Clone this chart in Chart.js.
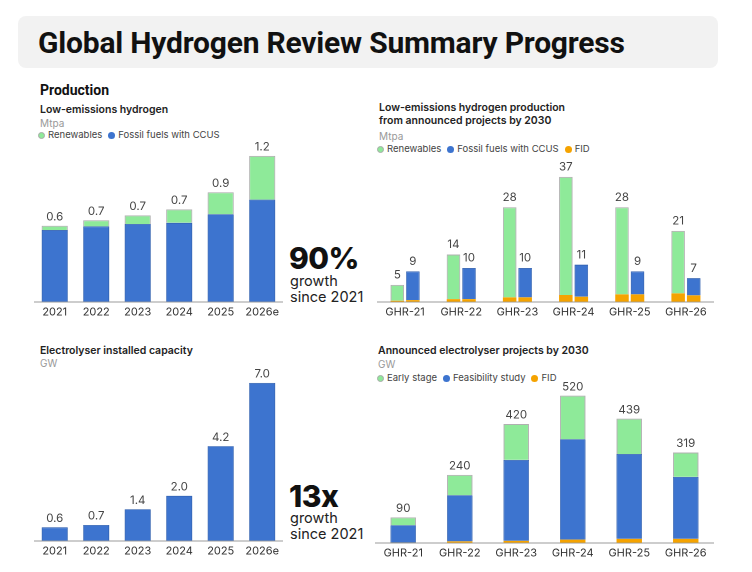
<!DOCTYPE html>
<html>
<head>
<meta charset="utf-8">
<script src="https://cdn.jsdelivr.net/npm/chart.js@4.4.1/dist/chart.umd.min.js"></script>
<style>
  html, body { margin:0; padding:0; background:#fff; }
  body { width:752px; height:572px; position:relative; overflow:hidden; font-family: Inter, "Noto Sans", sans-serif; color:#222; }
  .abs { position:absolute; white-space:nowrap; }
  #titlebox { left:18px; top:16px; width:700px; height:52px; background:#f2f2f2; border-radius:8px; }
  #title { left:38px; top:25px; font-family: Roboto, sans-serif; font-weight:700; font-size:30px; line-height:36px; color:#111; letter-spacing:-0.2px; }
  .sec { font-family: Roboto, sans-serif; font-weight:700; font-size:14px; line-height:16px; color:#111; }
  .sub { font-weight:600; font-size:10.5px; line-height:13px; color:#222; }
  .unit { font-size:10px; line-height:12px; color:#999; }
  .leg { font-size:9.5px; line-height:12px; color:#444; }
  .leg span.d { display:inline-block; width:7px; height:7px; border-radius:50%; margin-right:3px; vertical-align:-0.5px; box-sizing:border-box; }
  .leg span.i { margin-right:6px; }
  .big { font-weight:800; font-size:30px; line-height:32px; color:#111; letter-spacing:-0.5px; }
  .bigsub { font-size:14.5px; line-height:16px; color:#222; }
  canvas { position:absolute; }
</style>
</head>
<body>
<div id="titlebox" class="abs"></div>
<div id="title" class="abs">Global Hydrogen Review Summary Progress</div>

<div class="abs sec" style="left:40px; top:82px;">Production</div>

<div class="abs sub" style="left:40px; top:103px;">Low-emissions hydrogen</div>
<div class="abs unit" style="left:40px; top:117px;">Mtpa</div>
<div class="abs leg" style="left:38px; top:129px;"><span class="d" style="background:#8eea99;border:1px solid #aaa"></span><span class="i">Renewables</span><span class="d" style="background:#3d74cf"></span><span class="i">Fossil fuels with CCUS</span></div>

<div class="abs sub" style="left:379px; top:101px;">Low-emissions hydrogen production</div>
<div class="abs sub" style="left:379px; top:114px;">from announced projects by 2030</div>
<div class="abs unit" style="left:379px; top:130px;">Mtpa</div>
<div class="abs leg" style="left:377px; top:143px;"><span class="d" style="background:#8eea99;border:1px solid #aaa"></span><span class="i">Renewables</span><span class="d" style="background:#3d74cf"></span><span class="i">Fossil fuels with CCUS</span><span class="d" style="background:#f5a300"></span><span class="i">FID</span></div>

<div class="abs big" style="left:289px; top:242px;">90%</div>
<div class="abs bigsub" style="left:290px; top:273px;">growth</div>
<div class="abs bigsub" style="left:290px; top:289px;">since 2021</div>

<div class="abs sub" style="left:40px; top:344px;">Electrolyser installed capacity</div>
<div class="abs unit" style="left:40px; top:357px;">GW</div>

<div class="abs big" style="left:289px; top:480px;">13x</div>
<div class="abs bigsub" style="left:290px; top:510px;">growth</div>
<div class="abs bigsub" style="left:290px; top:526px;">since 2021</div>

<div class="abs sub" style="left:378px; top:344px;">Announced electrolyser projects by 2030</div>
<div class="abs unit" style="left:378px; top:358px;">GW</div>
<div class="abs leg" style="left:377px; top:372px;"><span class="d" style="background:#8eea99;border:1px solid #aaa"></span><span class="i">Early stage</span><span class="d" style="background:#3d74cf"></span><span class="i">Feasibility study</span><span class="d" style="background:#f5a300"></span><span class="i">FID</span></div>

<canvas id="c1"></canvas>
<canvas id="c2"></canvas>
<canvas id="c3"></canvas>
<canvas id="c4"></canvas>

<script>
// ---------- DATA ----------
const years = ["2021", "2022", "2023", "2024", "2025", "2026e"];
const prodFossil = [0.59, 0.62, 0.64, 0.65, 0.72, 0.84];
const prodRenew = [0.035, 0.05, 0.07, 0.11, 0.18, 0.36];
const prodTotalLabels = ["0.6", "0.7", "0.7", "0.7", "0.9", "1.2"];

const ghr = ["GHR-21", "GHR-22", "GHR-23", "GHR-24", "GHR-25", "GHR-26"];
const projRenewTotal = [5, 14, 28, 37, 28, 21];
const projRenewFID = [0.3, 0.8, 1.3, 2.0, 2.2, 2.5];
const projFossilTotal = [9, 10, 10, 11, 9, 7];
const projFossilFID = [0.5, 0.8, 1.3, 1.5, 2.2, 1.9];

const elecCapacity = [0.6, 0.7, 1.4, 2.0, 4.2, 7.0];
const elecCapacityLabels = ["0.6", "0.7", "1.4", "2.0", "4.2", "7.0"];

const elecFID = [1, 5, 7, 11, 14, 14];
const elecFeasibility = [61, 163, 286, 355, 300, 219];
const elecEarly = [28, 72, 127, 154, 125, 86];
const elecTotalLabels = ["90", "240", "420", "520", "439", "319"];

// ---------- STYLE ----------
const GREEN = "#8eea99", GREEN_B = "#b0b0b0";
const BLUE = "#3d74cf", BLUE_B = "#2f5fae";
const ORANGE = "#f5a300";
const FONT = "Inter, 'Noto Sans', sans-serif";

Chart.defaults.font.family = FONT;
Chart.defaults.animation = false;
Chart.defaults.responsive = false;
Chart.defaults.devicePixelRatio = 2;

function topLabels(datasetIndex, labels, yOff) {
  return {
    id: "topLabels" + datasetIndex,
    afterDatasetsDraw(chart) {
      const ctx = chart.ctx;
      const meta = chart.getDatasetMeta(datasetIndex);
      ctx.save();
      ctx.font = "11.5px " + FONT;
      ctx.fillStyle = "#444";
      ctx.textAlign = "center";
      ctx.textBaseline = "bottom";
      meta.data.forEach((el, i) => {
        ctx.fillText(labels[i], el.x, el.y - (yOff || 3));
      });
      ctx.restore();
    }
  };
}

function place(id, left, top, w, h) {
  const c = document.getElementById(id);
  c.style.left = left + "px"; c.style.top = top + "px";
  c.width = w; c.height = h;
  c.style.width = w + "px"; c.style.height = h + "px";
  return c;
}

function xAxis() {
  return {
    stacked: true,
    grid: { display: false, drawTicks: false },
    border: { display: true, color: "#9a9a9a", width: 1 },
    ticks: { color: "#333", font: { size: 11 }, padding: 4, maxRotation: 0, autoSkip: false }
  };
}
function yAxis(max) {
  return { display: false, stacked: true, min: 0, max: max };
}
const commonPlugins = { legend: { display: false }, tooltip: { enabled: false } };

// Chart 1: Low-emissions hydrogen
new Chart(place("c1", 34, 140, 249, 183), {
  type: "bar",
  data: {
    labels: years,
    datasets: [
      { label: "Fossil fuels with CCUS", data: prodFossil, backgroundColor: BLUE, borderColor: BLUE_B, borderWidth: 0.8, categoryPercentage: 1, barPercentage: 0.63 },
      { label: "Renewables", data: prodRenew, backgroundColor: GREEN, borderColor: GREEN_B, borderWidth: 1, categoryPercentage: 1, barPercentage: 0.63 }
    ]
  },
  options: {
    layout: { padding: 0 },
    scales: { x: xAxis(), y: yAxis(1.33) },
    plugins: commonPlugins
  },
  plugins: [topLabels(1, prodTotalLabels, 3)]
});

// Chart 2: announced projects production
const renewRest = projRenewTotal.map((v, i) => v - projRenewFID[i]);
const fossilRest = projFossilTotal.map((v, i) => v - projFossilFID[i]);
const bp = { categoryPercentage: 0.553, barPercentage: 0.87 };
new Chart(place("c2", 377, 160, 337, 163), {
  type: "bar",
  data: {
    labels: ghr,
    datasets: [
      Object.assign({ label: "FID", data: projRenewFID, stack: "r", backgroundColor: ORANGE, borderWidth: 0 }, bp),
      Object.assign({ label: "Renewables", data: renewRest, stack: "r", backgroundColor: GREEN, borderColor: GREEN_B, borderWidth: 1 }, bp),
      Object.assign({ label: "FID", data: projFossilFID, stack: "f", backgroundColor: ORANGE, borderWidth: 0 }, bp),
      Object.assign({ label: "Fossil fuels with CCUS", data: fossilRest, stack: "f", backgroundColor: BLUE, borderColor: BLUE_B, borderWidth: 0.8 }, bp)
    ]
  },
  options: {
    layout: { padding: 0 },
    scales: { x: xAxis(), y: yAxis(42) },
    plugins: commonPlugins
  },
  plugins: [topLabels(1, projRenewTotal.map(String), 4), topLabels(3, projFossilTotal.map(String), 4)]
});

// Chart 3: Electrolyser installed capacity
new Chart(place("c3", 34, 366, 249, 196), {
  type: "bar",
  data: {
    labels: years,
    datasets: [
      { label: "Electrolyser installed capacity", data: elecCapacity, backgroundColor: BLUE, borderColor: BLUE_B, borderWidth: 0.8, categoryPercentage: 1, barPercentage: 0.63 }
    ]
  },
  options: {
    layout: { padding: 0 },
    scales: { x: xAxis(), y: yAxis(7.75) },
    plugins: commonPlugins
  },
  plugins: [topLabels(0, elecCapacityLabels, 3)]
});

// Chart 4: Announced electrolyser projects
const bp4 = { categoryPercentage: 1, barPercentage: 0.45 };
new Chart(place("c4", 375, 375, 339, 189), {
  type: "bar",
  data: {
    labels: ghr,
    datasets: [
      Object.assign({ label: "FID", data: elecFID, backgroundColor: ORANGE, borderWidth: 0 }, bp4),
      Object.assign({ label: "Feasibility study", data: elecFeasibility, backgroundColor: BLUE, borderColor: BLUE_B, borderWidth: 0.8 }, bp4),
      Object.assign({ label: "Early stage", data: elecEarly, backgroundColor: GREEN, borderColor: GREEN_B, borderWidth: 1 }, bp4)
    ]
  },
  options: {
    layout: { padding: 0 },
    scales: { x: xAxis(), y: yAxis(593) },
    plugins: commonPlugins
  },
  plugins: [topLabels(2, elecTotalLabels, 3)]
});
</script>
</body>
</html>
